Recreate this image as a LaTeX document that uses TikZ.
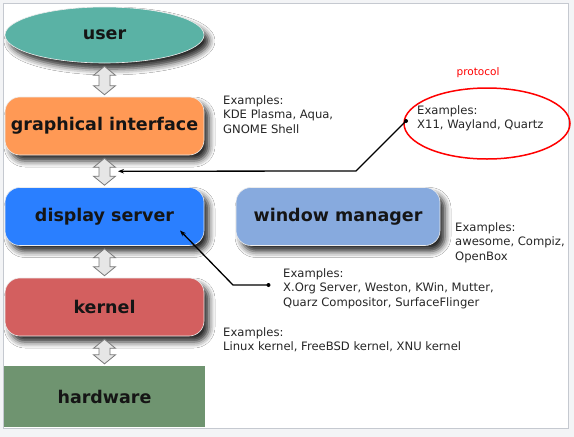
\documentclass[tikz,border=0pt]{standalone}
\usepackage{fontspec}
\setmainfont{DejaVu Sans}
\usetikzlibrary{shapes.geometric,shadows.blur,arrows.meta,calc}
\definecolor{bgc}{HTML}{F3F4F6}
\definecolor{framec}{HTML}{C5C9D0}
\definecolor{userc}{HTML}{5AB2A5}
\definecolor{gic}{HTML}{FF9955}
\definecolor{dsc}{HTML}{2A7FFF}
\definecolor{wmc}{HTML}{87AADE}
\definecolor{kerc}{HTML}{D35F5F}
\definecolor{hwc}{HTML}{6F9470}
\definecolor{labc}{HTML}{151515}
\definecolor{exc}{HTML}{262626}
\definecolor{arrc}{HTML}{E6E6E6}
\definecolor{arrd}{HTML}{7A7A7A}
\newcommand\mydblarrow[2]{%
  \draw[dblarr] let \p1=(#1), \p2=(#2) in
    (\x1,\y1-3pt) -- (\x1+11pt,\y1-12pt) -- (\x1+5.5pt,\y1-12pt) --
    (\x1+5.5pt,\y2+11pt) -- (\x1+11pt,\y2+11pt) -- (\x1,\y2+2pt) --
    (\x1-11pt,\y2+11pt) -- (\x1-5.5pt,\y2+11pt) -- (\x1-5.5pt,\y1-12pt) --
    (\x1-11pt,\y1-12pt) -- cycle;}
\begin{document}
\begin{tikzpicture}[x=1pt,y=-1pt,
  shad/.style={blur shadow={shadow xshift=5pt, shadow yshift=-6pt, shadow blur radius=6pt, shadow opacity=85}},
  lab/.style={font=\fontsize{17.5}{20}\selectfont\bfseries, text=labc, inner sep=0pt},
  box/.style={lab, shad, rounded corners=15pt, minimum width=199pt, minimum height=58pt, draw=white!85!gray, line width=0.6pt},
  ex/.style={font=\fontsize{11.6}{14.8}\selectfont, text=exc, align=left, anchor=north west, inner sep=0pt},
  dblarr/.style={fill=arrc, draw=arrd, line width=0.8pt, line join=miter},
  conn/.style={draw=black, line width=1.3pt},
  tipa/.style={-{Stealth[length=6pt,width=4.5pt]}},
  dotc/.style={circle, fill=black, inner sep=0pt, minimum size=4pt}
]
\fill[bgc] (0,0) rectangle (574,437);
\useasboundingbox (0,0) rectangle (574,437);
\draw[framec, fill=white, line width=0.8pt] (3.5,3.5) rectangle (568,428);

\node[lab, shad, ellipse, fill=userc, draw=white!85!gray, line width=0.6pt, minimum width=199pt, minimum height=56pt] (user) at (104.5,35) {user};
\node[box, fill=gic] (gi) at (104.5,126) {graphical interface};
\node[box, fill=dsc] (ds) at (104.5,216.5) {display server};
\node[box, fill=kerc] (kern) at (104.5,307) {kernel};
\node[lab, fill=hwc, minimum width=201pt, minimum height=61pt] (hw) at (104.5,396.5) {hardware};
\node[box, fill=wmc, minimum width=204pt] (wm) at (338,216.5) {window manager};

\mydblarrow{user.south}{gi.north}
\mydblarrow{gi.south}{ds.north}
\mydblarrow{ds.south}{kern.north}
\mydblarrow{kern.south}{hw.north}

\node[ex] (exgi) at (223,95) {Examples:\\KDE Plasma, Aqua,\\GNOME Shell};
\node[ex] (exwm) at (455,222) {Examples:\\awesome, Compiz,\\OpenBox};
\node[ex] (exds) at (283,268) {Examples:\\X.Org Server, Weston, KWin, Mutter,\\Quarz Compositor, SurfaceFlinger};
\node[ex] (exk) at (223,327) {Examples:\\Linux kernel, FreeBSD kernel, XNU kernel};

\node[ellipse, draw=red, line width=1.5pt, minimum width=166pt, minimum height=71pt, inner sep=0pt] (proto) at (487,123.5) {};
\node[ex] (exp) at (417,105) {Examples:\\X11, Wayland, Quartz};
\node[font=\fontsize{10.5}{12}\selectfont, text=red, inner sep=0pt] (plab) at (478,73) {protocol};

\coordinate (pdot) at (406,121);
\coordinate (pbend) at (356,171);
\coordinate (a2r) at ($(gi.south)!0.5!(ds.north)+(13.5,0)$);
\node[dotc] (pd) at (pdot) {};
\draw[conn, tipa] (pdot) -- (pbend) -- (a2r);

\coordinate (dsdot) at (268.5,285);
\coordinate (dsbend) at (233,285);
\coordinate (dstip) at ($(ds.center)+(75.5,14)$);
\node[dotc] (dd) at (dsdot) {};
\draw[conn, tipa] (dsdot) -- (dsbend) -- (dstip);
\end{tikzpicture}
\end{document}
